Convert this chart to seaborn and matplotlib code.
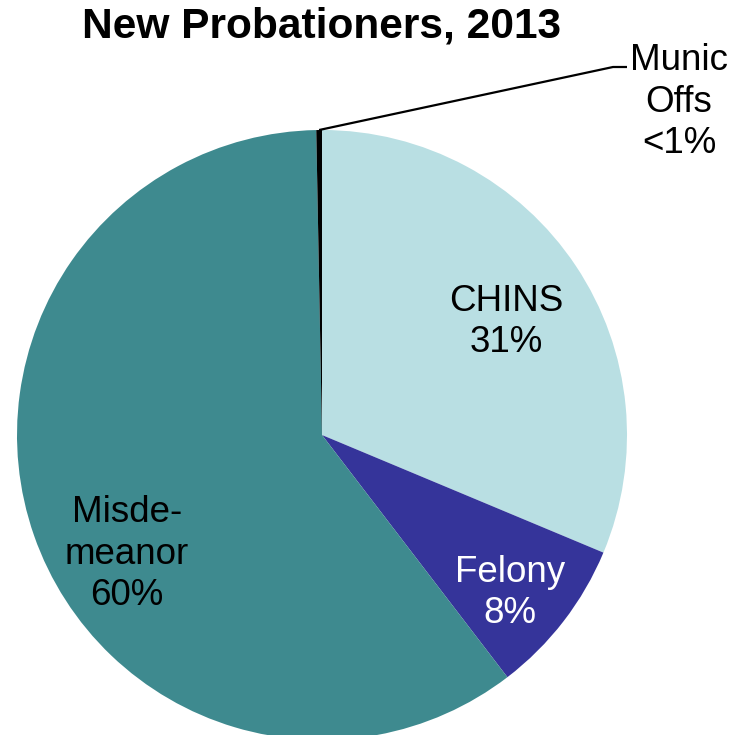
import numpy as np
import matplotlib
matplotlib.use("Agg")
import matplotlib.pyplot as plt
import seaborn as sns

categories = ["CHINS", "Felony", "Misdemeanor", "Munic Offs"]
values = [31.3, 8.3, 60.1, 0.3]
labels = ["CHINS\n31%", "Felony\n8%", "Misde-\nmeanor\n60%", "Munic\nOffs\n<1%"]
colors = ["#b9dfe3", "#35349a", "#3e8a8f", "#000000"]

sns.set_theme(style="white")
plt.rcParams["font.family"] = ["Liberation Sans", "DejaVu Sans"]

W, H = 751, 735
fig = plt.figure(figsize=(W / 100, H / 100), dpi=100)
ax = fig.add_axes([0, 0, 1, 1])

cx, cy, R = 322, H - 435, 305
wedges, _ = ax.pie(values, colors=colors, startangle=90, counterclock=False,
                   center=(cx, cy), radius=R, frame=True,
                   wedgeprops=dict(linewidth=0))
ax.set_xlim(0, W)
ax.set_ylim(0, H)
ax.set_aspect("equal")
ax.axis("off")

fs = 26.5
ls = 1.25
ax.text(506, H - 322, labels[0], ha="center", va="center", fontsize=fs, color="black", linespacing=ls)
ax.text(510, H - 593, labels[1], ha="center", va="center", fontsize=fs, color="white", linespacing=ls)
ax.text(127, H - 554, labels[2], ha="center", va="center", fontsize=fs, color="black", linespacing=ls)
ax.text(679, H - 102, labels[3], ha="center", va="center", fontsize=fs, color="black", linespacing=ls)

# leader line from the small slice
w = wedges[3]
mid = np.deg2rad((w.theta1 + w.theta2) / 2)
sx, sy = cx + R * np.cos(mid), cy + R * np.sin(mid)
ax.plot([sx, 613, 627], [sy, H - 67, H - 67], color="black", lw=1.6, solid_capstyle="butt")

fig.text(321.5 / W, 1 - 27 / H, "New Probationers, 2013", ha="center", va="center",
         fontsize=30.6, fontweight="bold", color="black")

fig.savefig("out.png", dpi=100)
